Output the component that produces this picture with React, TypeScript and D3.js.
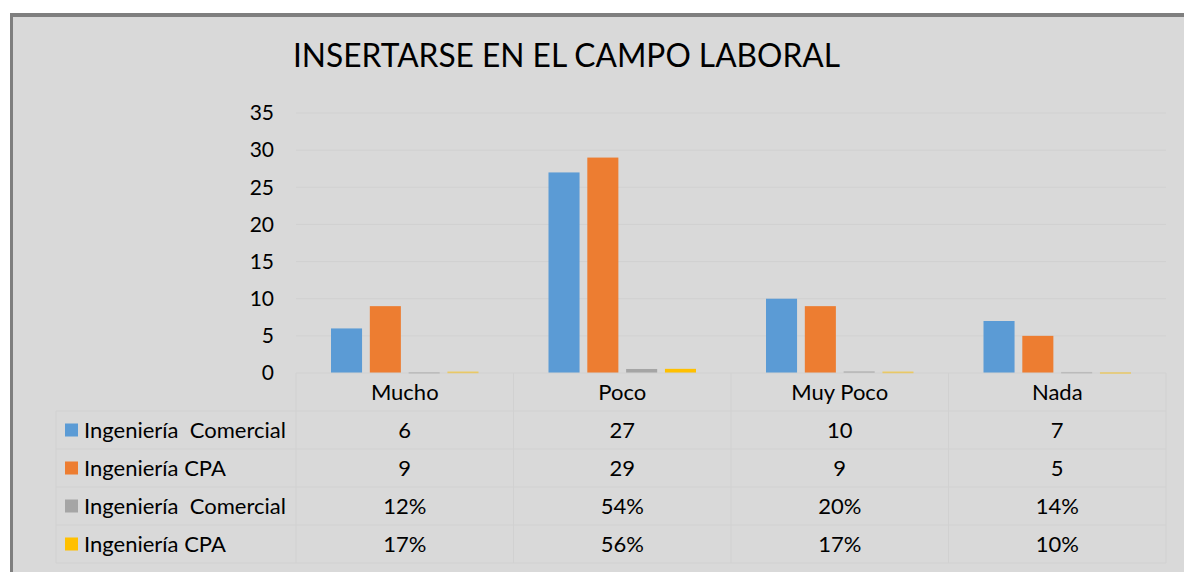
import React from 'react';
import * as d3 from 'd3';

const categories = ['Mucho', 'Poco', 'Muy Poco', 'Nada'];
const seriesNames = ['Ingeniería  Comercial', 'Ingeniería CPA', 'Ingeniería  Comercial', 'Ingeniería CPA'];
const seriesColors = ['#5b9bd5', '#ed7d31', '#a5a5a5', '#ffc000'];
const comercial = [6, 27, 10, 7];
const cpa = [9, 29, 9, 5];
const comercialPct = [0.12, 0.54, 0.2, 0.14];
const cpaPct = [0.17, 0.56, 0.17, 0.1];
const yTicks = [0, 5, 10, 15, 20, 25, 30, 35];

const series = [comercial, cpa, comercialPct, cpaPct];
const fmt = (v: number, i: number) => (i < 2 ? String(v) : `${Math.round(v * 100)}%`);

const W = 1184;
const H = 572;
const FONT = 'Lato, "Open Sans", sans-serif';

const App = () => {
  const plotLeft = 296;
  const plotRight = 1166;
  const tableLeft = 56;
  const rowH = 38;

  const x0 = d3.scaleBand<string>().domain(categories).range([plotLeft, plotRight]);
  const bw = x0.bandwidth();
  const x1 = d3.scaleBand<number>()
    .domain(d3.range(series.length))
    .range([35, bw - 35])
    .paddingInner(0.2);
  const y = d3.scaleLinear().domain([0, 35]).range([373, 113]);
  const base = y(0);

  const gridColor = '#d1d1d1';

  return (
    <div style={{ position: 'absolute', left: 0, top: 0 }}>
      <svg width={W} height={H} style={{ display: 'block' }}>
        <rect x={0} y={0} width={W} height={H} fill="#ffffff" />
        {/* frame */}
        <rect x={10} y={13} width={W - 10} height={H - 13} fill="#7f7f7f" />
        <rect x={13} y={17} width={W - 13} height={H - 17} fill="#d9d9d9" />

        <text x={293} y={67} fontFamily={FONT} fontSize={33} fill="#000"
          textLength={547} lengthAdjust="spacingAndGlyphs">
          INSERTARSE EN EL CAMPO LABORAL
        </text>

        {/* gridlines */}
        {yTicks.filter(t => t > 0).map(t => (
          <line key={t} x1={plotLeft} x2={plotRight} y1={y(t)} y2={y(t)} stroke={gridColor} strokeWidth={1} />
        ))}
        {yTicks.map(t => (
          <text key={t} x={274} y={y(t)} dy="0.35em" textAnchor="end" fontFamily={FONT} fontSize={21} fill="#000">
            {t}
          </text>
        ))}

        {/* bars */}
        {categories.map((c, ci) => (
          <g key={c} transform={`translate(${x0(c)},0)`}>
            {series.map((s, si) => (
              <rect key={si} x={x1(si)} y={y(s[ci])} width={x1.bandwidth()}
                height={Math.max(base - y(s[ci]), 1.5)} fill={seriesColors[si]} />
            ))}
          </g>
        ))}

        {/* data table */}
        <g fontFamily={FONT} fontSize={22} fill="#000">
          <line x1={plotLeft} x2={plotRight} y1={base} y2={base} stroke={gridColor} />
          {d3.range(series.length + 1).map(r => (
            <line key={r} x1={tableLeft} x2={plotRight} y1={base + rowH * (r + 1)} y2={base + rowH * (r + 1)} stroke={gridColor} />
          ))}
          <line x1={tableLeft} x2={tableLeft} y1={base + rowH} y2={base + rowH * 5} stroke={gridColor} />
          {categories.map(c => (
            <line key={c} x1={x0(c)} x2={x0(c)} y1={base} y2={base + rowH * 5} stroke={gridColor} />
          ))}
          <line x1={plotRight} x2={plotRight} y1={base} y2={base + rowH * 5} stroke={gridColor} />

          {categories.map(c => (
            <text key={c} x={(x0(c) as number) + bw / 2} y={base + rowH / 2} dy="0.35em" textAnchor="middle">{c}</text>
          ))}
          {series.map((s, si) => {
            const cy = base + rowH * (si + 1) + rowH / 2;
            return (
              <g key={si}>
                <rect x={65} y={cy - 6.5} width={13} height={13} fill={seriesColors[si]} />
                <text x={84} y={cy} dy="0.35em" style={{ whiteSpace: 'pre' }}>{seriesNames[si]}</text>
                {categories.map((c, ci) => (
                  <text key={c} x={(x0(c) as number) + bw / 2} y={cy} dy="0.35em" textAnchor="middle">{fmt(s[ci], si)}</text>
                ))}
              </g>
            );
          })}
        </g>
      </svg>
    </div>
  );
};

export default App;
